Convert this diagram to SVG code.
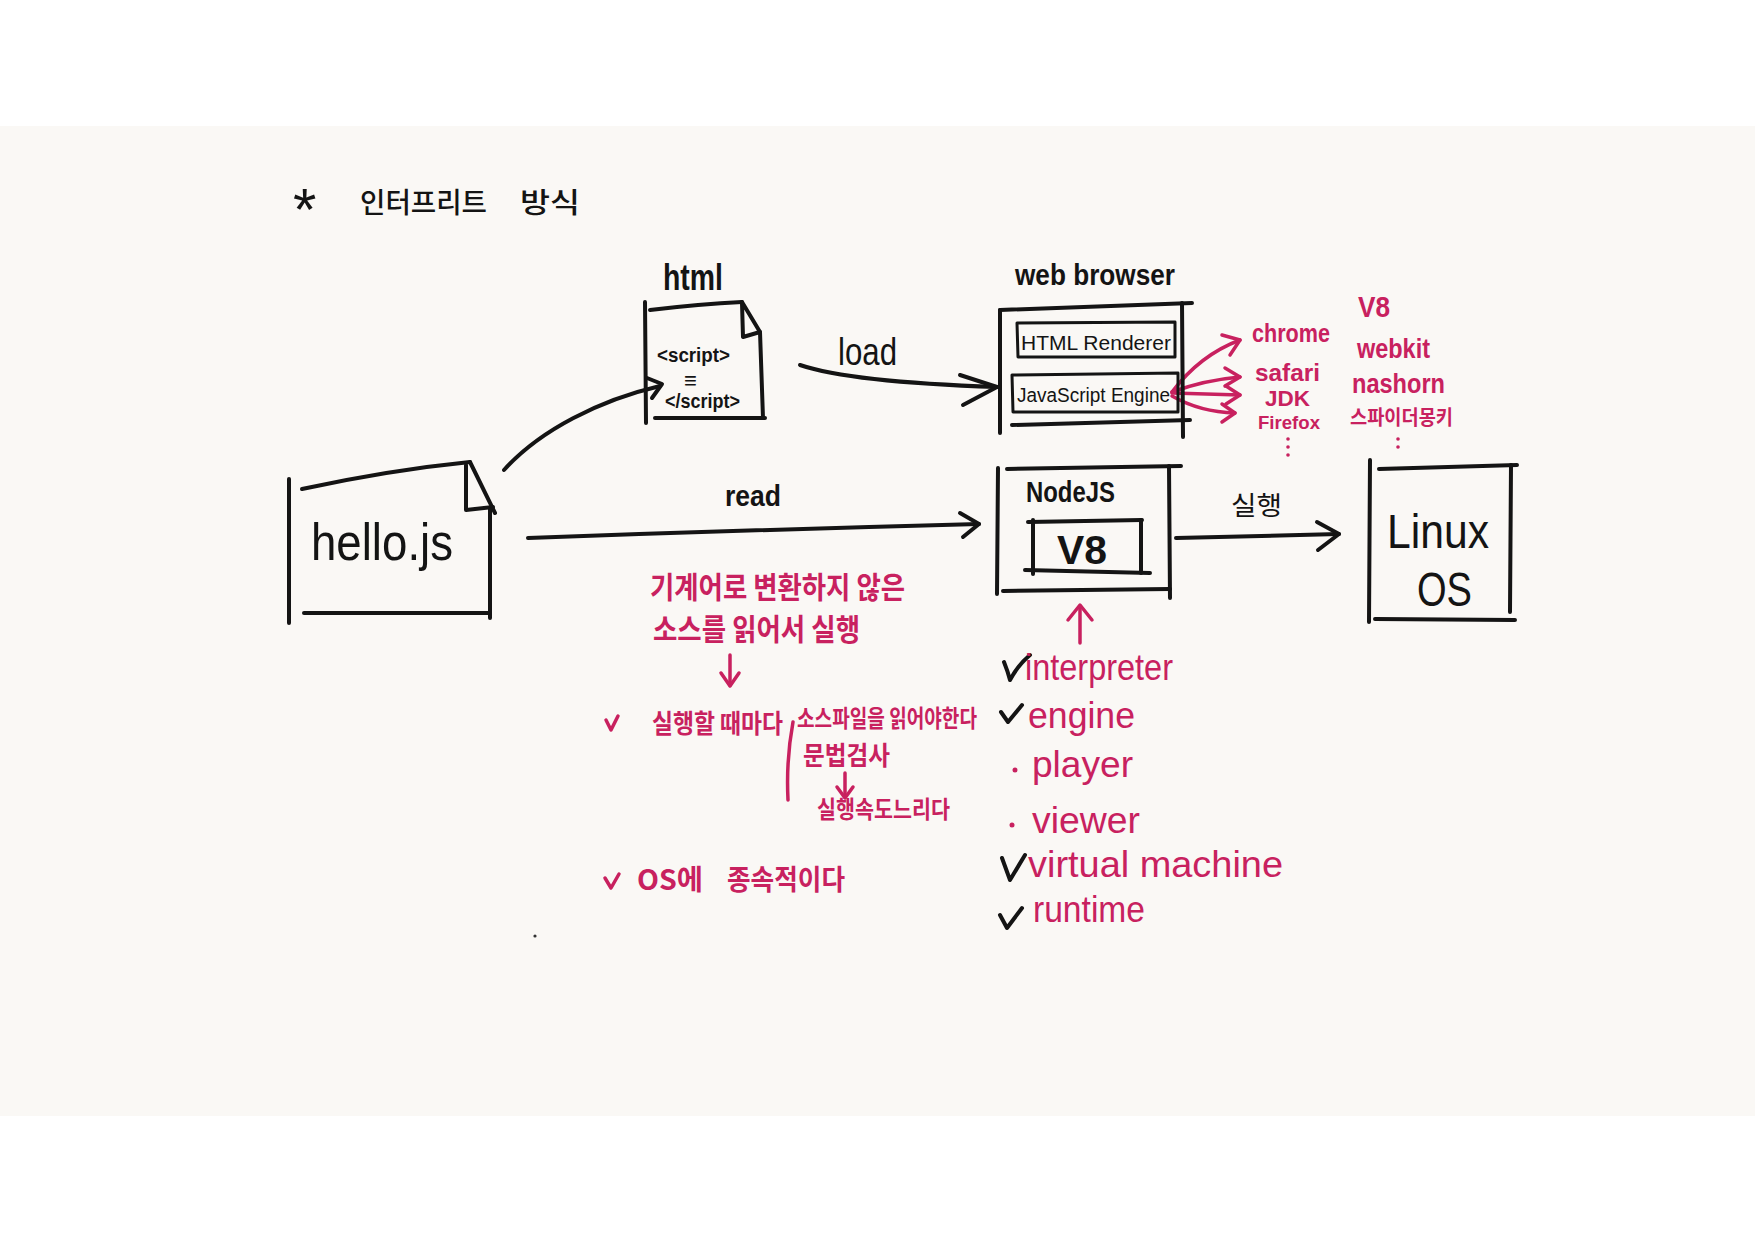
<svg xmlns="http://www.w3.org/2000/svg" width="1755" height="1241" viewBox="0 0 1755 1241">
<style>
.k{fill:none;stroke:#141414;stroke-width:4;stroke-linecap:round;stroke-linejoin:round}
.kt{fill:none;stroke:#141414;stroke-width:3;stroke-linecap:round;stroke-linejoin:round}
.p{fill:none;stroke:#c8215f;stroke-width:3.5;stroke-linecap:round;stroke-linejoin:round}
.t{font-family:"Liberation Sans","DejaVu Sans",sans-serif;fill:#141414}
.tk{font-family:"Noto Sans CJK KR","Liberation Sans",sans-serif;fill:#141414}
.pt{font-family:"Liberation Sans","DejaVu Sans",sans-serif;fill:#c8215f}
.pk{font-family:"Noto Sans CJK KR","Liberation Sans",sans-serif;fill:#c8215f}
</style>
<rect x="0" y="0" width="1755" height="1241" fill="#ffffff"/>
<rect x="0" y="126" width="1755" height="990" fill="#faf8f5"/>

<g id="title">
<text class="t" x="293" y="230" font-size="60">*</text>
<text class="tk" y="213" font-size="28" font-weight="500"><tspan x="360" textLength="127" lengthAdjust="spacingAndGlyphs">인터프리트</tspan><tspan x="520" textLength="60" lengthAdjust="spacingAndGlyphs">방식</tspan></text>
</g>

<g id="connectors">
<path class="k" d="M504,470 C540,430 600,400 660,386"/>
<path class="k" d="M647,378 L662,384 L652,398"/>
<path class="k" d="M800,365 Q850,382 997,387"/>
<path class="k" d="M960,375 L997,387 L963,405"/>
<path class="k" d="M528,538 Q750,530 979,524"/>
<path class="k" d="M960,513 L979,524 L963,537"/>
<path class="k" d="M1176,538 L1339,534"/>
<path class="k" d="M1317,522 L1339,534 L1318,550"/>
<text class="t" x="838" y="365" font-size="38" textLength="59" lengthAdjust="spacingAndGlyphs">load</text>
<text class="t" x="725" y="506" font-size="30" font-weight="bold" textLength="56" lengthAdjust="spacingAndGlyphs">read</text>
<text class="tk" x="1231" y="515" font-size="26" textLength="51" lengthAdjust="spacingAndGlyphs">실행</text>
<path class="p" d="M1172,392 Q1200,355 1240,340"/>
<path class="p" d="M1222,335 L1240,340 L1230,355"/>
<path class="p" d="M1172,392 Q1205,380 1240,377"/>
<path class="p" d="M1225,368 L1240,377 L1225,386"/>
<path class="p" d="M1172,393 L1240,395"/>
<path class="p" d="M1226,386 L1240,395 L1226,404"/>
<path class="p" d="M1172,396 Q1200,412 1235,413"/>
<path class="p" d="M1222,404 L1235,413 L1222,422"/>
<path class="p" d="M1080,643 L1080,607"/>
<path class="p" d="M1068,620 L1080,605 L1092,620"/>
</g>

<g id="html-doc">
<text class="t" x="663" y="290" font-size="36" font-weight="bold" textLength="60" lengthAdjust="spacingAndGlyphs">html</text>
<path class="k" d="M645,302 L646,423"/>
<path class="k" d="M650,310 Q700,304 742,302"/>
<path class="k" d="M742,302 L760,332 L743,337 L742,303"/>
<path class="k" d="M760,332 L763,418"/>
<path class="k" d="M655,418 L765,418"/>
<text class="t" x="657" y="362" font-size="20" font-weight="bold" textLength="73" lengthAdjust="spacingAndGlyphs">&lt;script&gt;</text>
<text class="t" x="684" y="388" font-size="22">≡</text>
<text class="t" x="665" y="408" font-size="20" font-weight="bold" textLength="75" lengthAdjust="spacingAndGlyphs">&lt;/script&gt;</text>
</g>

<g id="web-browser">
<text class="t" x="1015" y="285" font-size="30" font-weight="bold" textLength="160" lengthAdjust="spacingAndGlyphs">web browser</text>
<path class="k" d="M1000,310 L1192,303"/>
<path class="k" d="M1000,310 L1000,433"/>
<path class="k" d="M1182,303 L1183,437"/>
<path class="k" d="M1012,425 L1190,420"/>
<path class="kt" d="M1017,323 L1175,322 L1175,357 L1018,357 Z"/>
<text class="t" x="1021" y="350" font-size="21" textLength="150" lengthAdjust="spacingAndGlyphs">HTML Renderer</text>
<path class="kt" d="M1012,375 L1178,373 L1178,412 L1013,412 Z"/>
<text class="t" x="1017" y="402" font-size="20" textLength="153" lengthAdjust="spacingAndGlyphs">JavaScript Engine</text>
</g>

<g id="engines">
<text class="pt" x="1252" y="342" font-size="26" font-weight="bold" textLength="78" lengthAdjust="spacingAndGlyphs">chrome</text>
<text class="pt" x="1358" y="317" font-size="30" font-weight="bold" textLength="32" lengthAdjust="spacingAndGlyphs">V8</text>
<text class="pt" x="1255" y="381" font-size="24" font-weight="bold" textLength="65" lengthAdjust="spacingAndGlyphs">safari</text>
<text class="pt" x="1357" y="358" font-size="28" font-weight="bold" textLength="73" lengthAdjust="spacingAndGlyphs">webkit</text>
<text class="pt" x="1265" y="406" font-size="22" font-weight="bold" textLength="45" lengthAdjust="spacingAndGlyphs">JDK</text>
<text class="pt" x="1352" y="393" font-size="28" font-weight="bold" textLength="93" lengthAdjust="spacingAndGlyphs">nashorn</text>
<text class="pt" x="1258" y="429" font-size="19" font-weight="bold" textLength="62" lengthAdjust="spacingAndGlyphs">Firefox</text>
<text class="pk" x="1350" y="425" font-size="20" font-weight="bold" textLength="103" lengthAdjust="spacingAndGlyphs">스파이더몽키</text>
<circle cx="1288" cy="439" r="1.8" fill="#c8215f"/>
<circle cx="1288" cy="447" r="1.8" fill="#c8215f"/>
<circle cx="1288" cy="455" r="1.8" fill="#c8215f"/>
<circle cx="1398" cy="439" r="1.8" fill="#c8215f"/>
<circle cx="1398" cy="447" r="1.8" fill="#c8215f"/>
</g>

<g id="hello-js">
<path class="k" d="M289,479 L289,623"/>
<path class="k" d="M302,489 Q390,470 470,462"/>
<path class="k" d="M470,462 L495,513"/>
<path class="k" d="M466,465 L466,510 L493,507"/>
<path class="k" d="M490,509 L490,618"/>
<path class="k" d="M304,613 L489,613"/>
<text class="t" x="311" y="560" font-size="52" textLength="142" lengthAdjust="spacingAndGlyphs">hello.js</text>
</g>

<g id="nodejs">
<path class="k" d="M1007,469 L1181,466"/>
<path class="k" d="M998,468 L997,594"/>
<path class="k" d="M1169,466 L1170,598"/>
<path class="k" d="M1003,591 L1170,589"/>
<text class="t" x="1026" y="502" font-size="30" font-weight="bold" textLength="89" lengthAdjust="spacingAndGlyphs">NodeJS</text>
<path class="k" d="M1028,522 L1142,520"/>
<path class="k" d="M1033,520 L1033,574"/>
<path class="k" d="M1141,520 L1141,573"/>
<path class="k" d="M1025,570 L1150,573"/>
<text class="t" x="1057" y="564" font-size="40" font-weight="bold" textLength="50" lengthAdjust="spacingAndGlyphs">V8</text>
</g>

<g id="linux-os">
<path class="k" d="M1370,460 L1369,622"/>
<path class="k" d="M1379,469 L1517,465"/>
<path class="k" d="M1511,465 L1510,612"/>
<path class="k" d="M1375,619 L1515,620"/>
<text class="t" x="1387" y="548" font-size="48" textLength="102" lengthAdjust="spacingAndGlyphs">Linux</text>
<text class="t" x="1417" y="606" font-size="48" textLength="55" lengthAdjust="spacingAndGlyphs">OS</text>
</g>

<g id="notes">
<text class="pk" x="650" y="598" font-size="30" font-weight="bold" textLength="255" lengthAdjust="spacingAndGlyphs">기계어로 변환하지 않은</text>
<text class="pk" x="653" y="640" font-size="30" font-weight="bold" textLength="207" lengthAdjust="spacingAndGlyphs">소스를 읽어서 실행</text>
<path class="p" d="M730,655 L730,685"/>
<path class="p" d="M721,673 L730,686 L739,673"/>
<path class="p" d="M606,720 L611,730 L618,716"/>
<text class="pk" x="652" y="733" font-size="26" font-weight="bold" textLength="131" lengthAdjust="spacingAndGlyphs">실행할 때마다</text>
<text class="pk" x="797" y="727" font-size="24" font-weight="bold" textLength="180" lengthAdjust="spacingAndGlyphs">소스파일을 읽어야한다</text>
<path class="p" d="M793,722 Q786,760 788,800"/>
<text class="pk" x="803" y="765" font-size="26" font-weight="bold" textLength="87" lengthAdjust="spacingAndGlyphs">문법검사</text>
<path class="p" d="M845,773 L845,797"/>
<path class="p" d="M837,787 L845,798 L853,787"/>
<text class="pk" x="817" y="818" font-size="24" font-weight="bold" textLength="133" lengthAdjust="spacingAndGlyphs">실행속도느리다</text>
<path class="p" d="M605,878 L611,888 L619,874"/>
<text class="pk" y="890" font-size="28" font-weight="bold"><tspan x="637" textLength="66" lengthAdjust="spacingAndGlyphs">OS에</tspan><tspan x="727" textLength="118" lengthAdjust="spacingAndGlyphs">종속적이다</tspan></text>
<circle cx="535" cy="936" r="1.6" fill="#333"/>
</g>

<g id="list">
<path class="k" d="M1004,662 Q1008,672 1010,680 Q1018,665 1030,655"/>
<text class="pt" x="1025" y="680" font-size="36" textLength="148" lengthAdjust="spacingAndGlyphs">interpreter</text>
<path class="k" d="M1001,712 L1008,722 L1022,705"/>
<text class="pt" x="1028" y="728" font-size="36" textLength="107" lengthAdjust="spacingAndGlyphs">engine</text>
<circle cx="1015" cy="770" r="2.5" fill="#c8215f"/>
<text class="pt" x="1032" y="777" font-size="36" textLength="101" lengthAdjust="spacingAndGlyphs">player</text>
<circle cx="1012" cy="825" r="2.5" fill="#c8215f"/>
<text class="pt" x="1032" y="833" font-size="36" textLength="108" lengthAdjust="spacingAndGlyphs">viewer</text>
<path class="k" d="M1002,858 L1010,880 L1025,855"/>
<text class="pt" x="1028" y="877" font-size="36" textLength="255" lengthAdjust="spacingAndGlyphs">virtual machine</text>
<path class="k" d="M1000,915 L1007,928 L1022,908"/>
<text class="pt" x="1033" y="922" font-size="36" textLength="112" lengthAdjust="spacingAndGlyphs">runtime</text>
</g>
</svg>
